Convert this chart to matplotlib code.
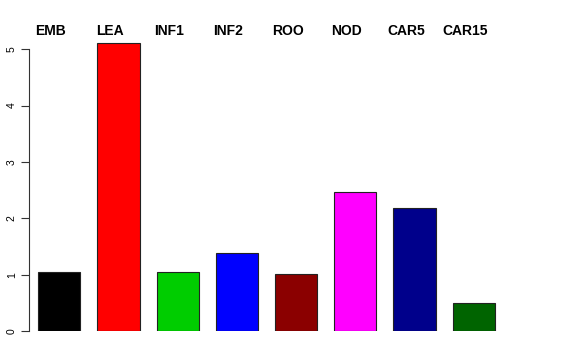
import matplotlib
matplotlib.use("Agg")
import matplotlib.pyplot as plt
from matplotlib.transforms import blended_transform_factory

categories = ["EMB", "LEA", "INF1", "INF2", "ROO", "NOD", "CAR5", "CAR15"]
values = [1.04, 5.11, 1.04, 1.38, 1.01, 2.46, 2.18, 0.50]
colors = ["#000000", "#FF0000", "#00CD00", "#0000FF", "#8B0000", "#FF00FF", "#00008B", "#006400"]
yticks = [0, 1, 2, 3, 4, 5]

plt.rcParams['font.family'] = ['Liberation Sans', 'DejaVu Sans']
W, H = 576, 360
fig = plt.figure(figsize=(W/100, H/100), dpi=100)
left, right = 29, 504
bottom_px = 331
ppu = 56.35
ytop = 5.2
ax = fig.add_axes([left/W, (H-bottom_px)/H, (right-left)/W, ytop*ppu/H])
x = list(range(len(categories)))
ax.bar(x, values, width=0.71, color=colors, edgecolor="#222222", linewidth=0.8)
ax.set_xlim((left-59.3)/59.2, (right-59.3)/59.2)
ax.set_ylim(0, ytop)
for s in ["top", "right", "bottom"]:
    ax.spines[s].set_visible(False)
ax.spines["left"].set_bounds(0, 5)
ax.spines["left"].set_color("#333333")
ax.spines["left"].set_linewidth(0.8)
ax.set_xticks([])
ax.set_yticks(yticks)
ax.set_yticklabels([str(t) for t in yticks], rotation=90, va="center", fontsize=7.5)
ax.tick_params(axis="y", length=5.8, width=0.8, color="#333333", pad=3)
trans = blended_transform_factory(ax.transData, fig.transFigure)
for xi, lab in zip(x, categories):
    ax.text(xi - 0.145, 1 - 30.7/H, lab, transform=trans, ha="center", va="center",
            fontsize=10, fontweight="bold", clip_on=False)
fig.savefig("out.png", dpi=100)
